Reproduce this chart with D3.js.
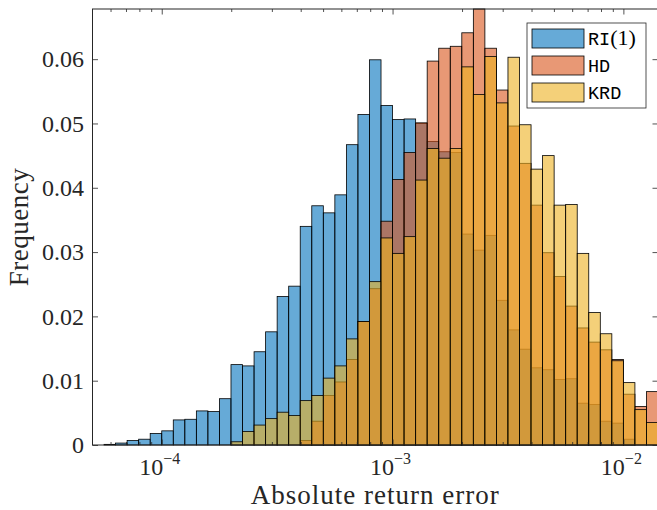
<!DOCTYPE html>
<html>
<head>
<meta charset="utf-8">
<script src="https://cdn.jsdelivr.net/npm/d3@7"></script>
<style>
	body { margin: 0; background: #fff; }
	svg { display: block; }
</style>
</head>
<body>
<div id="chart-area"></div>
<script>
// Bin edges as log10 exponents (20 bins per decade)
const binEdgesExp = [-4.30, -4.25, -4.20, -4.15, -4.10, -4.05, -4.00, -3.95, -3.90, -3.85,
	-3.80, -3.75, -3.70, -3.65, -3.60, -3.55, -3.50, -3.45, -3.40, -3.35,
	-3.30, -3.25, -3.20, -3.15, -3.10, -3.05, -3.00, -2.95, -2.90, -2.85,
	-2.80, -2.75, -2.70, -2.65, -2.60, -2.55, -2.50, -2.45, -2.40, -2.35,
	-2.30, -2.25, -2.20, -2.15, -2.10, -2.05, -2.00, -1.95, -1.90, -1.85];

// Frequencies per bin
const riFreq = [0, 0.0001, 0.0003, 0.0007, 0.0009, 0.0018, 0.0022, 0.0039, 0.0040, 0.0053,
	0.0052, 0.0072, 0.0125, 0.0123, 0.0145, 0.0176, 0.0231, 0.0247, 0.0340, 0.0372,
	0.0361, 0.0389, 0.0467, 0.0514, 0.0599, 0.0528, 0.0506, 0.0507, 0.0500, 0.0472,
	0.0456, 0.0455, 0.0328, 0.0303, 0.0326, 0.0225, 0.0179, 0.0149, 0.0120, 0.0117,
	0.0102, 0.0103, 0.0065, 0.0063, 0.0037, 0.0034, 0.0009, 0, 0];

const hdFreq = [0, 0, 0, 0, 0, 0, 0, 0, 0, 0,
	0, 0, 0, 0, 0, 0, 0, 0, 0.0007, 0.0037,
	0.0077, 0.0098, 0.0133, 0.0192, 0.0243, 0.0348, 0.0413, 0.0455, 0.0501, 0.0597,
	0.0617, 0.0620, 0.0641, 0.0678, 0.0617, 0.0552, 0.0496, 0.0438, 0.0373, 0.0299,
	0.0262, 0.0216, 0.0182, 0.0160, 0.0148, 0.0133, 0.0079, 0.0060, 0.0083];

const krdFreq = [0, 0, 0, 0, 0, 0, 0, 0, 0, 0,
	0, 0, 0.0005, 0.0021, 0.0031, 0.0041, 0.0051, 0.0046, 0.0069, 0.0077,
	0.0104, 0.0123, 0.0165, 0.0192, 0.0254, 0.0322, 0.0298, 0.0324, 0.0412, 0.0461,
	0.0446, 0.0461, 0.0588, 0.0545, 0.0604, 0.0532, 0.0603, 0.0498, 0.0429, 0.0450,
	0.0373, 0.0374, 0.0298, 0.0206, 0.0173, 0.0131, 0.0097, 0.0055, 0.0035];

const seriesNames = ["RI", "HD", "KRD"];
const seriesColors = ["#0072BD", "#D95319", "#EDB120"];

const xTickExps = [-4, -3, -2];
const yTickValues = [0, 0.01, 0.02, 0.03, 0.04, 0.05, 0.06];
const yTickLabels = ["0", "0.01", "0.02", "0.03", "0.04", "0.05", "0.06"];

/*
	Overlapping histogram class
*/
class HistChart{

	constructor(_parentElement, _width, _height){
		this.parentElement = _parentElement;
		this.svgWidth = _width;
		this.svgHeight = _height;

		this.initializeChart();
	}

	initializeChart(){
		var vis = this;

		// plot box (right edge sits just outside the picture)
		vis.box = {left: 92.5, right: 658, top: 9, bottom: 445};
		vis.axisColor = "#262626";
		vis.serif = "'Liberation Serif', 'Times New Roman', serif";
		vis.mono = "'Liberation Mono', monospace";

		vis.svg = d3.select(vis.parentElement)
					.append("svg")
					.attr("width", vis.svgWidth)
					.attr("height", vis.svgHeight);

		vis.xScale = d3.scaleLog()
			.domain([Math.pow(10, binEdgesExp[0]), Math.pow(10, binEdgesExp[binEdgesExp.length - 1])])
			.range([vis.box.left, vis.box.right]);
		vis.yScale = d3.scaleLinear()
			.domain([0, d3.max(hdFreq)])
			.range([vis.box.bottom, vis.box.top]);

		vis.series = [riFreq, hdFreq, krdFreq].map((freq, s) => ({
			name: seriesNames[s],
			color: seriesColors[s],
			bins: freq.map((v, i) => ({
				x0: Math.pow(10, binEdgesExp[i]),
				x1: Math.pow(10, binEdgesExp[i + 1]),
				v: v
			}))
		}));

		vis.updateChart();
	}

	updateChart(){
		var vis = this;

		// Drawing bars, one series after another
		vis.series.forEach(ser => {
			vis.svg.append("g").attr("class", "hist")
				.selectAll("rect").data(ser.bins)
				.enter().append("rect")
				.attr("x", d => vis.xScale(d.x0))
				.attr("y", d => vis.yScale(d.v))
				.attr("width", d => vis.xScale(d.x1) - vis.xScale(d.x0))
				.attr("height", d => vis.yScale(0) - vis.yScale(d.v))
				.attr("fill", ser.color)
				.attr("fill-opacity", 0.6)
				.attr("stroke", "#000")
				.attr("stroke-width", 0.8);
		});

		// Axes, ticks pointing inward
		var majors = xTickExps.map(e => Math.pow(10, e));
		var minors = vis.xScale.ticks().filter(t => !majors.some(m => Math.abs(m - t) / m < 1e-9));

		var axes = [
			[d3.axisBottom(vis.xScale).tickValues(majors).tickSize(-5.5), "translate(0," + vis.box.bottom + ")"],
			[d3.axisBottom(vis.xScale).tickValues(minors).tickSize(-3), "translate(0," + vis.box.bottom + ")"],
			[d3.axisTop(vis.xScale).tickValues(majors).tickSize(-5.5), "translate(0," + vis.box.top + ")"],
			[d3.axisTop(vis.xScale).tickValues(minors).tickSize(-3), "translate(0," + vis.box.top + ")"],
			[d3.axisRight(vis.yScale).tickValues(yTickValues).tickSize(-5.5), "translate(" + vis.box.right + ",0)"]
		];
		axes.forEach(a => {
			var g = vis.svg.append("g").attr("transform", a[1]).call(a[0].tickFormat("").tickSizeOuter(0));
			g.select(".domain").remove();
			g.selectAll("line").attr("stroke", vis.axisColor).attr("stroke-width", 0.8);
		});

		vis.yAxis = vis.svg.append("g")
			.attr("transform", "translate(" + vis.box.left + ",0)")
			.call(d3.axisLeft(vis.yScale).tickValues(yTickValues).tickSize(-5.5).tickSizeOuter(0)
				.tickPadding(8.5).tickFormat((d, i) => yTickLabels[i]));
		vis.yAxis.select(".domain").remove();
		vis.yAxis.selectAll("line").attr("stroke", vis.axisColor).attr("stroke-width", 0.8);
		vis.yAxis.selectAll("text")
			.attr("fill", vis.axisColor)
			.style("font-family", vis.serif)
			.style("font-size", "24px");

		// box
		vis.svg.append("rect")
			.attr("x", vis.box.left).attr("y", vis.box.top)
			.attr("width", vis.box.right - vis.box.left)
			.attr("height", vis.box.bottom - vis.box.top)
			.attr("fill", "none")
			.attr("stroke", vis.axisColor)
			.attr("stroke-width", 1);

		// x tick labels 10^k
		xTickExps.forEach(e => {
			var t = vis.svg.append("text")
				.attr("x", vis.xScale(Math.pow(10, e)) - 2)
				.attr("y", 475)
				.attr("text-anchor", "middle")
				.attr("fill", vis.axisColor)
				.style("font-family", vis.serif)
				.style("font-size", "24px");
			t.append("tspan").text("10");
			t.append("tspan").attr("dy", -11).style("font-size", "16px").text("\u2212" + Math.abs(e));
		});

		// axis labels
		vis.svg.append("text")
			.attr("x", (vis.box.left + vis.box.right) / 2)
			.attr("y", 504)
			.attr("text-anchor", "middle")
			.attr("fill", vis.axisColor)
			.style("font-family", vis.serif)
			.style("font-size", "27px")
			.style("letter-spacing", "1px")
			.text("Absolute return error");

		vis.svg.append("text")
			.attr("transform", "translate(28," + ((vis.box.top + vis.box.bottom) / 2) + ") rotate(-90)")
			.attr("text-anchor", "middle")
			.attr("fill", vis.axisColor)
			.style("font-family", vis.serif)
			.style("font-size", "27px")
			.style("letter-spacing", "0.5px")
			.text("Frequency");

		// Legend
		var lg = vis.svg.append("g").attr("transform", "translate(527,23)");
		lg.append("rect")
			.attr("width", 119).attr("height", 85)
			.attr("fill", "#fff")
			.attr("stroke", vis.axisColor)
			.attr("stroke-width", 0.8);
		vis.series.forEach((ser, i) => {
			var row = lg.append("g").attr("transform", "translate(5," + (6 + i * 27) + ")");
			row.append("rect")
				.attr("width", 52).attr("height", 19)
				.attr("fill", ser.color)
				.attr("fill-opacity", 0.6)
				.attr("stroke", "#000")
				.attr("stroke-width", 0.8);
			var txt = row.append("text")
				.attr("x", 56).attr("y", 16)
				.attr("fill", "#000")
				.style("font-family", vis.mono)
				.style("font-size", "18.5px")
				.text(ser.name);
			if(i == 0){
				txt.append("tspan").style("font-family", vis.serif).style("font-size", "22px").text("(1)");
			}
		});
	}

}

var chart = new HistChart("#chart-area", 657, 510);
</script>
</body>
</html>
